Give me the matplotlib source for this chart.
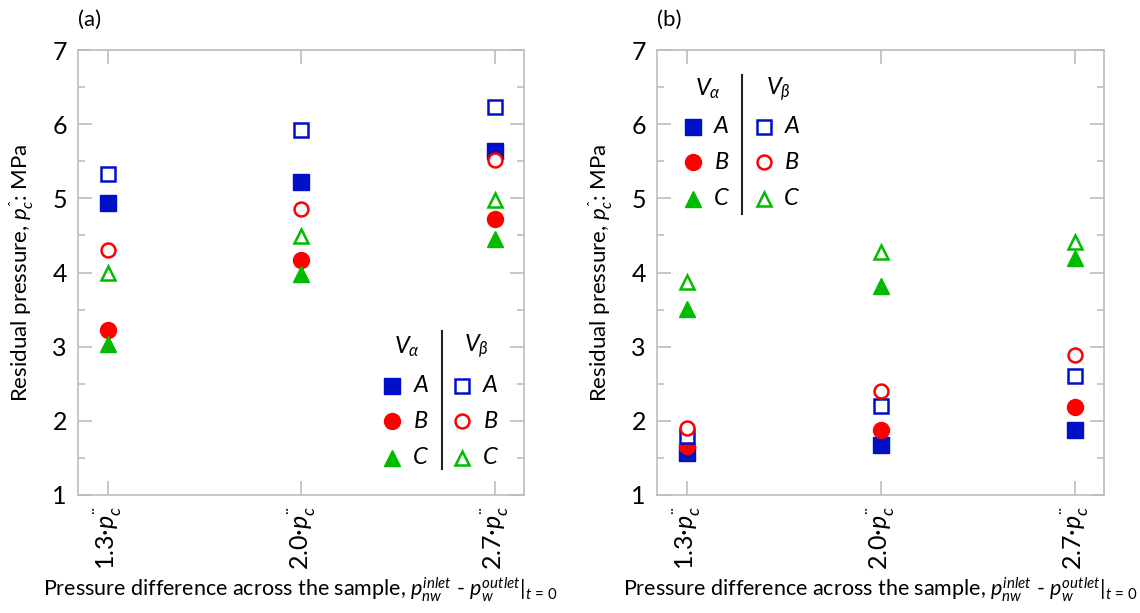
import numpy as np
import matplotlib
matplotlib.use("Agg")
import matplotlib.pyplot as plt
from matplotlib.lines import Line2D

plt.rcParams['font.family'] = ['Lato', 'DejaVu Sans']
plt.rcParams['mathtext.fontset'] = 'custom'
plt.rcParams['mathtext.rm'] = 'Lato'
plt.rcParams['mathtext.it'] = 'Lato:italic'

# categories (pressure difference) and residual pressure values [MPa]
categories = ["1.3", "2.0", "2.7"]
tick_labels = [c + "·$p^{¨}_{c}$" for c in categories]

# panel (a)
a_alpha_A = [4.94, 5.22, 5.64]
a_alpha_B = [3.22, 4.17, 4.72]
a_alpha_C = [3.03, 3.98, 4.45]
a_beta_A = [5.33, 5.92, 6.23]
a_beta_B = [4.31, 4.86, 5.52]
a_beta_C = [3.99, 4.49, 4.98]

# panel (b)
b_alpha_A = [1.56, 1.67, 1.88]
b_alpha_B = [1.66, 1.87, 2.19]
b_alpha_C = [3.51, 3.82, 4.20]
b_beta_A = [1.80, 2.20, 2.60]
b_beta_B = [1.91, 2.40, 2.89]
b_beta_C = [3.87, 4.28, 4.41]

blue = '#0010c8'
red = '#ff0000'
green = '#00bb00'
grey = '#bdbdbd'
fSize = 16

styles = {
    'A': dict(marker='s', color=blue, ms=11),
    'B': dict(marker='o', color=red, ms=11.5),
    'C': dict(marker='^', color=green, ms=11.5),
}


def draw_panel(ax, alpha, beta, leg_x, leg_y, tag):
    x = np.arange(len(categories))
    # filled (V_alpha) then open (V_beta)
    for key, vals in zip('ABC', alpha):
        st = styles[key]
        ax.plot(x, vals, ls='none', marker=st['marker'], ms=st['ms'],
                color=st['color'], mec=st['color'], zorder=3)
    for key, vals in zip('ABC', beta):
        st = styles[key]
        ax.plot(x, vals, ls='none', marker=st['marker'], ms=st['ms'] - 1.5,
                mfc='white', mec=st['color'], mew=1.8, zorder=4)

    ax.set_xlim(-0.155, 2.15)
    ax.set_ylim(1, 7)
    ax.set_xticks(x)
    ax.set_xticklabels(tick_labels, rotation=90, fontsize=fSize + 0.5)
    ax.set_yticks(range(1, 8))
    ax.set_yticks(np.arange(1.5, 7, 1.0), minor=True)
    ax.tick_params(axis='both', which='major', direction='in', length=10,
                   width=1.2, color=grey, labelsize=fSize + 2, top=True, right=True)
    ax.tick_params(axis='y', which='minor', direction='in', length=5,
                   width=1.2, color=grey, right=True)
    ax.tick_params(axis='x', pad=8)
    ax.tick_params(axis='y', pad=8)
    for sp in ax.spines.values():
        sp.set_color(grey)
        sp.set_linewidth(1.2)

    ax.set_ylabel("Residual pressure, $p^{ˆ}_{c}$: MPa", fontsize=fSize,
                  labelpad=12)
    ax.set_xlabel("Pressure difference across the sample, "
                  "$p^{inlet}_{nw}$ - $p^{outlet}_{w}|_{t\\,=\\,0}$",
                  fontsize=fSize - 0.5, labelpad=4)

    # hand-made two column legend
    c1, l1, vline, c2, l2 = leg_x
    hy, ry, y0, y1 = leg_y
    tr = ax.transAxes
    ax.text((c1 + l1) / 2, hy, r"$V_{\alpha}$", transform=tr, ha='center',
            va='center', fontsize=fSize + 1)
    ax.text((c2 + l2) / 2, hy, r"$V_{\beta}$", transform=tr, ha='center',
            va='center', fontsize=fSize + 1)
    for key, yy in zip('ABC', ry):
        st = styles[key]
        ax.plot(c1, yy, transform=tr, ls='none', marker=st['marker'],
                ms=st['ms'], color=st['color'], clip_on=False)
        ax.plot(c2, yy, transform=tr, ls='none', marker=st['marker'],
                ms=st['ms'] - 1.5, mfc='white', mec=st['color'], mew=1.8,
                clip_on=False)
        ax.text(l1, yy, "$" + key + "$", transform=tr, ha='center',
                va='center', fontsize=fSize + 1)
        ax.text(l2, yy, "$" + key + "$", transform=tr, ha='center',
                va='center', fontsize=fSize + 1)
    ax.add_line(Line2D([vline, vline], [y0, y1], transform=tr,
                       color='#222222', lw=1.5))

    ax.text(0.0, 1.068, tag, transform=tr, fontsize=fSize,
            ha='left', va='center')


W, H = 1140, 613
fig = plt.figure(figsize=(W / 100, H / 100), dpi=100)
ax1 = fig.add_axes([78 / W, 1 - 495 / H, 446 / W, 445 / H])
ax2 = fig.add_axes([657 / W, 1 - 495 / H, 447 / W, 445 / H])

draw_panel(ax1, [a_alpha_A, a_alpha_B, a_alpha_C],
           [a_beta_A, a_beta_B, a_beta_C],
           (0.704, 0.769, 0.817, 0.861, 0.925),
           (0.334, (0.245, 0.166, 0.084), 0.368, 0.058), "(a)")
draw_panel(ax2, [b_alpha_A, b_alpha_B, b_alpha_C],
           [b_beta_A, b_beta_B, b_beta_C],
           (0.081, 0.145, 0.191, 0.239, 0.302),
           (0.913, (0.828, 0.748, 0.666), 0.944, 0.632), "(b)")

fig.savefig("out.png", dpi=100)
